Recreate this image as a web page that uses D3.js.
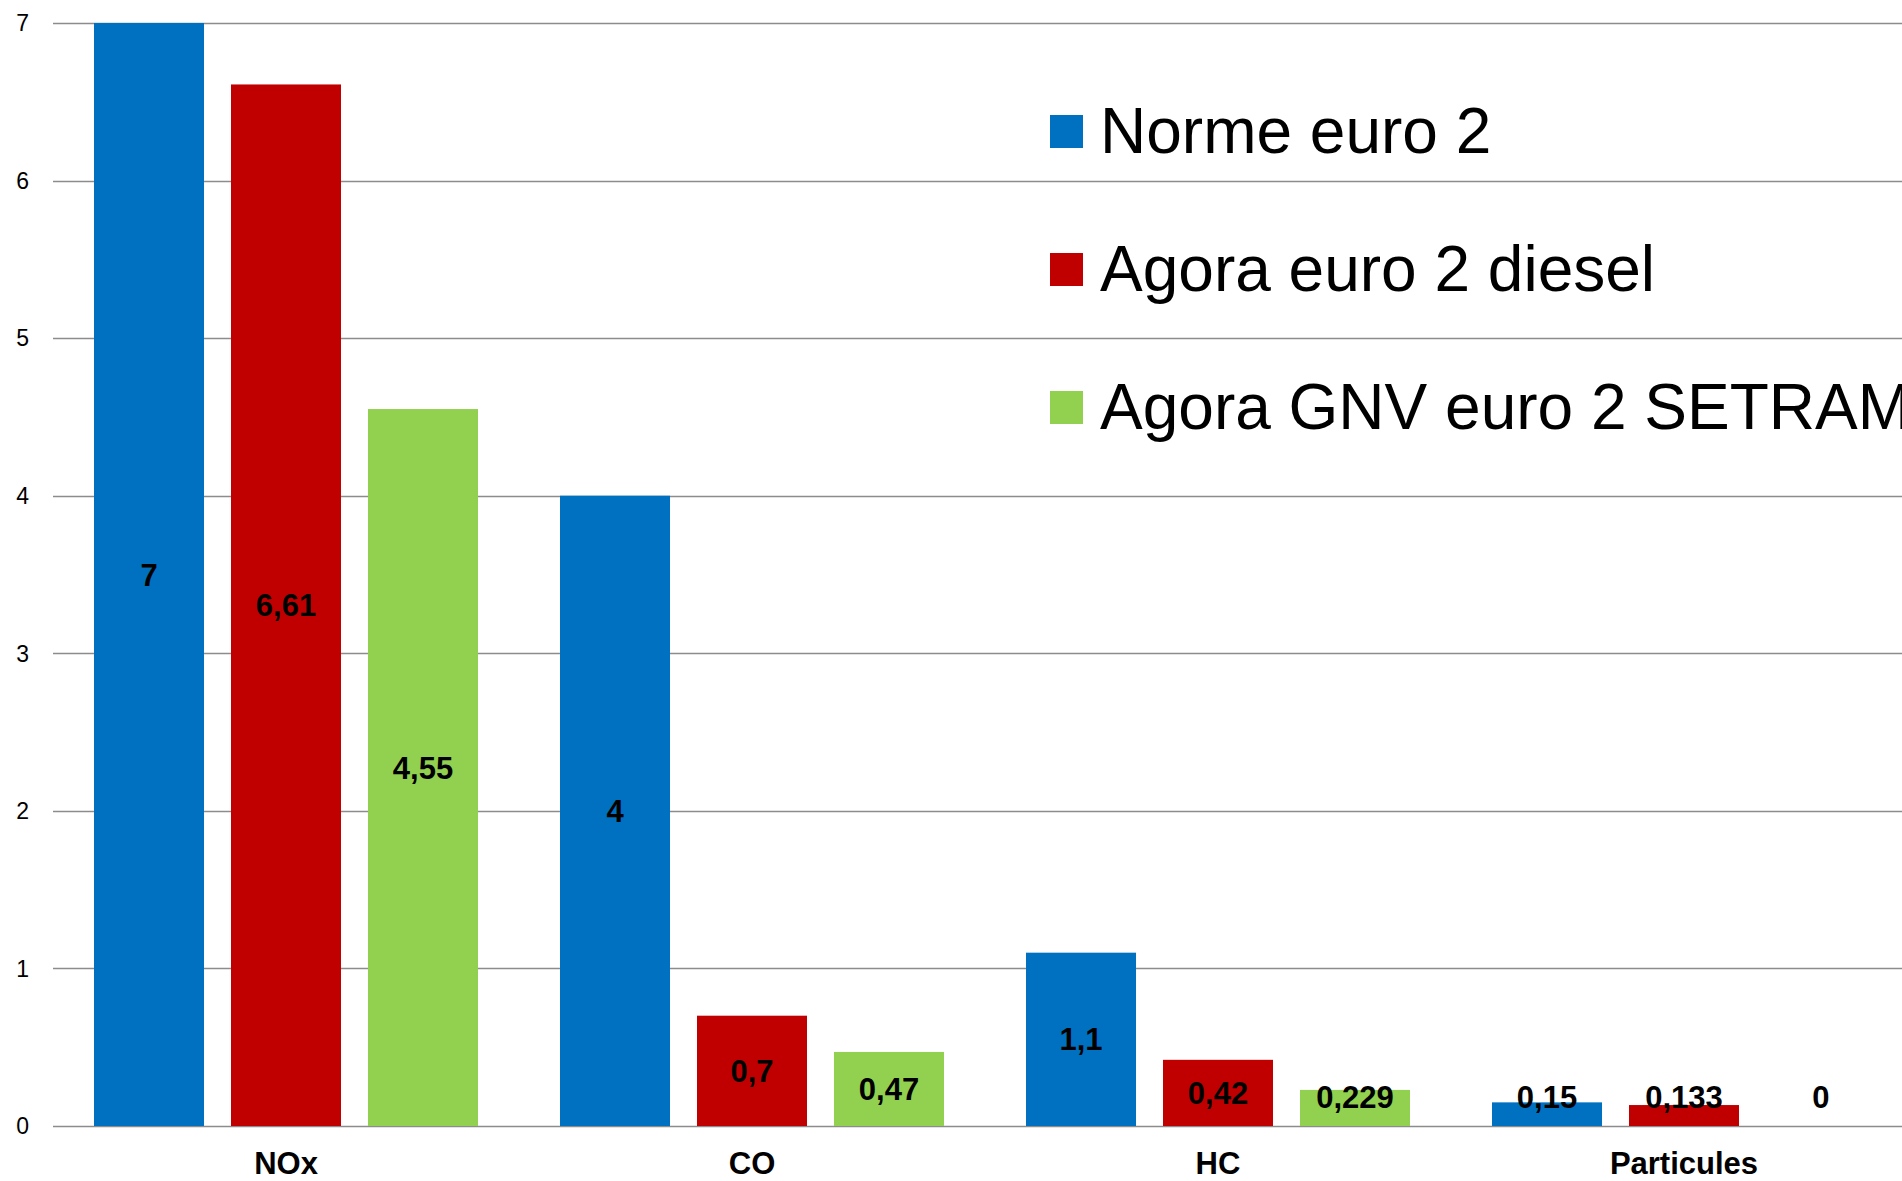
<!DOCTYPE html>
<html>
<head>
<meta charset="utf-8">
<script src="https://cdn.jsdelivr.net/npm/d3@7"></script>
<style>
html,body{margin:0;padding:0;background:#fff;overflow:hidden;}
svg{display:block;font-family:"Liberation Sans",Arial,sans-serif;}
</style>
</head>
<body>
<svg id="chart" width="1902" height="1181"></svg>
<script>
const categories = ["NOx", "CO", "HC", "Particules"];
const seriesNames = ["Norme euro 2", "Agora euro 2 diesel", "Agora GNV euro 2 SETRAM"];
const normeEuro2 = [7, 4, 1.1, 0.15];
const agoraDiesel = [6.61, 0.7, 0.42, 0.133];
const agoraGNV = [4.55, 0.47, 0.229, 0];
const valueLabels = [
  ["7", "4", "1,1", "0,15"],
  ["6,61", "0,7", "0,42", "0,133"],
  ["4,55", "0,47", "0,229", "0"]
];
const yTicks = [0, 1, 2, 3, 4, 5, 6, 7];
const colors = ["#0070C0", "#C00000", "#92D050"];

const seriesValues = [normeEuro2, agoraDiesel, agoraGNV];

const svg = d3.select("#chart");
const W = 1902;
const plotLeft = 53, plotRight = 1917, plotTop = 23, plotBottom = 1126;

const y = d3.scaleLinear().domain([0, 7]).range([plotBottom, plotTop]);
const x0 = d3.scaleBand().domain(categories).range([plotLeft, plotRight]).padding(0);
const bandW = x0.bandwidth();
const x1 = d3.scaleBand().domain(seriesNames)
  .range([bandW * 0.088, bandW * (1 - 0.088)])
  .paddingInner(0.197).paddingOuter(0);

// gridlines
svg.append("g").selectAll("line").data(yTicks).join("line")
  .attr("x1", plotLeft).attr("x2", W)
  .attr("y1", d => Math.round(y(d)) + 0.5).attr("y2", d => Math.round(y(d)) + 0.5)
  .attr("stroke", "#8c8c8c").attr("stroke-width", 1.6);

// y tick labels
svg.append("g").selectAll("text").data(yTicks).join("text")
  .attr("x", 29).attr("y", d => y(d))
  .attr("dy", "0.36em")
  .attr("text-anchor", "end")
  .attr("font-size", 23)
  .attr("fill", "#000")
  .text(d => d);

// bars
const groups = svg.append("g").selectAll("g").data(categories).join("g")
  .attr("transform", d => `translate(${x0(d)},0)`);

seriesNames.forEach((s, si) => {
  groups.append("rect")
    .attr("x", x1(s))
    .attr("width", x1.bandwidth())
    .attr("y", (d, ci) => y(seriesValues[si][ci]))
    .attr("height", (d, ci) => y(0) - y(seriesValues[si][ci]))
    .attr("fill", colors[si]);
});

// value labels
seriesNames.forEach((s, si) => {
  groups.append("text")
    .attr("x", x1(s) + x1.bandwidth() / 2)
    .attr("y", (d, ci) => {
      const v = seriesValues[si][ci];
      const c = (y(v) + y(0)) / 2;
      return Math.min(c, y(0) - 29);
    })
    .attr("dy", "0.36em")
    .attr("text-anchor", "middle")
    .attr("font-size", 31)
    .attr("font-weight", "bold")
    .attr("fill", "#000")
    .text((d, ci) => valueLabels[si][ci]);
});

// category labels
svg.append("g").selectAll("text").data(categories).join("text")
  .attr("x", d => x0(d) + bandW / 2)
  .attr("y", 1174)
  .attr("text-anchor", "middle")
  .attr("font-size", 31)
  .attr("font-weight", "bold")
  .attr("fill", "#000")
  .text(d => d);

// legend
const legend = svg.append("g").attr("transform", "translate(1050,115)");
const lg = legend.selectAll("g").data(seriesNames).join("g")
  .attr("transform", (d, i) => `translate(0,${i * 138})`);
lg.append("rect").attr("width", 33).attr("height", 33).attr("fill", (d, i) => colors[i]);
lg.append("text").attr("x", 50).attr("y", 38)
  .attr("font-size", 64).attr("fill", "#000").text(d => d);
</script>
</body>
</html>
